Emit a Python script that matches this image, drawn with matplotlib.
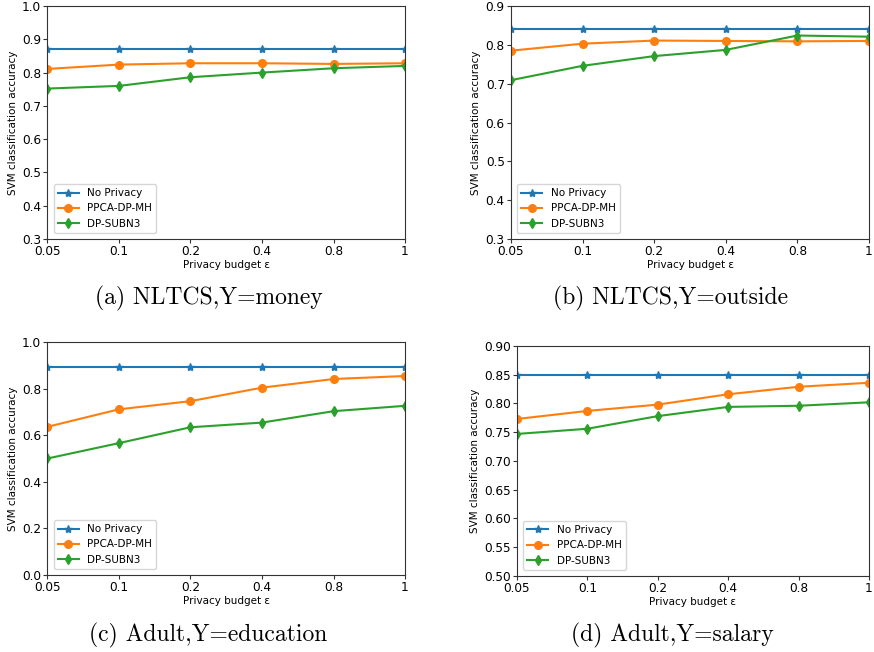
import matplotlib
matplotlib.use("Agg")
import matplotlib.pyplot as plt

# privacy budgets (categorical x axis)
budgets = ['0.05', '0.1', '0.2', '0.4', '0.8', '1']
series_names = ['No Privacy', 'PPCA-DP-MH', 'DP-SUBN3']

# (a) NLTCS, Y=money
a_noprivacy = [0.870, 0.870, 0.870, 0.870, 0.870, 0.870]
a_ppca = [0.811, 0.824, 0.828, 0.828, 0.826, 0.828]
a_subn3 = [0.752, 0.760, 0.786, 0.800, 0.813, 0.820]

# (b) NLTCS, Y=outside
b_noprivacy = [0.841, 0.841, 0.841, 0.841, 0.841, 0.841]
b_ppca = [0.785, 0.803, 0.811, 0.810, 0.809, 0.810]
b_subn3 = [0.709, 0.746, 0.771, 0.787, 0.824, 0.821]

# (c) Adult, Y=education
c_noprivacy = [0.893, 0.893, 0.893, 0.893, 0.893, 0.893]
c_ppca = [0.636, 0.711, 0.746, 0.804, 0.841, 0.854]
c_subn3 = [0.500, 0.566, 0.634, 0.654, 0.703, 0.726]

# (d) Adult, Y=salary
d_noprivacy = [0.850, 0.850, 0.850, 0.850, 0.850, 0.850]
d_ppca = [0.773, 0.787, 0.798, 0.816, 0.829, 0.836]
d_subn3 = [0.747, 0.756, 0.778, 0.794, 0.796, 0.802]

captions = ['(a) NLTCS,Y=money', '(b) NLTCS,Y=outside',
            '(c) Adult,Y=education', '(d) Adult,Y=salary']

panels = [
    (a_noprivacy, a_ppca, a_subn3, (0.3, 1.0), [0.3, 0.4, 0.5, 0.6, 0.7, 0.8, 0.9, 1.0], '%.1f'),
    (b_noprivacy, b_ppca, b_subn3, (0.3, 0.9), [0.3, 0.4, 0.5, 0.6, 0.7, 0.8, 0.9], '%.1f'),
    (c_noprivacy, c_ppca, c_subn3, (0.0, 1.0), [0.0, 0.2, 0.4, 0.6, 0.8, 1.0], '%.1f'),
    (d_noprivacy, d_ppca, d_subn3, (0.5, 0.9), [0.50, 0.55, 0.60, 0.65, 0.70, 0.75, 0.80, 0.85, 0.90], '%.2f'),
]

# axes rectangles in figure coords
rects = [
    [0.0543, 0.6334, 0.4091, 0.3574],
    [0.5847, 0.6334, 0.4096, 0.3574],
    [0.0543, 0.1181, 0.4091, 0.3574],
    [0.5915, 0.1166, 0.4027, 0.3528],
]
caption_pos = [(0.239, 0.543), (0.767, 0.543), (0.238, 0.026), (0.769, 0.026)]

fig = plt.figure(figsize=(8.74, 6.52), dpi=100)

fs = 7.5
tick_fs = 8.7
x = list(range(len(budgets)))
for (nop, ppca, subn, ylim, yticks, fmt), rect, cap, cpos in zip(panels, rects, captions, caption_pos):
    ax = fig.add_axes(rect)
    ax.plot(x, nop, marker='*', markersize=6, color='tab:blue', label=series_names[0])
    ax.plot(x, ppca, marker='o', markersize=5.5, color='tab:orange', label=series_names[1])
    ax.plot(x, subn, marker='d', markersize=5.5, color='tab:green', label=series_names[2])
    ax.set_xlim(0, len(budgets) - 1)
    ax.set_ylim(*ylim)
    ax.set_xticks(x)
    ax.set_xticklabels(budgets, fontsize=tick_fs)
    ax.set_yticks(yticks)
    ax.set_yticklabels([fmt % v for v in yticks], fontsize=tick_fs)
    ax.tick_params(length=3, pad=1.5, color='#333333')
    for sp in ax.spines.values():
        sp.set_color('#333333')
    ax.set_xlabel('Privacy budget ε', fontsize=fs, labelpad=1)
    ax.set_ylabel('SVM classification accuracy', fontsize=fs, labelpad=3)
    ax.legend(loc='lower left', fontsize=fs, borderaxespad=0.6)
    fig.text(cpos[0], cpos[1], cap, ha='center', va='center',
             fontfamily='cmr10', fontsize=17)

fig.savefig('out.png', dpi=100)
